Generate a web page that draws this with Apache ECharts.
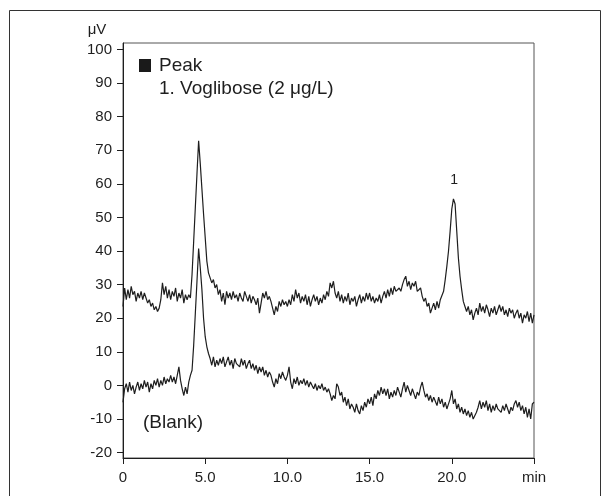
<!DOCTYPE html>
<html>
<head>
<meta charset="utf-8">
<script src="https://cdn.jsdelivr.net/npm/echarts@6/dist/echarts.min.js"></script>
<style>
html,body{margin:0;padding:0;background:#fff;}
#chart{width:609px;height:496px;}
</style>
</head>
<body>
<div id="chart"></div>
<script>
// ---- data ----
var timeStart = 0;      // min
var timeStep = 0.1;     // min between samples
var sampleTrace = [
  23.5, 29.0, 25.5, 28.5, 26.0, 29.5, 27.0, 28.0, 25.0, 27.5,
  26.0, 28.0, 25.5, 27.5, 26.0, 24.5, 25.5, 23.5, 24.5, 22.5,
  23.5, 22.0, 23.0, 25.5, 30.5, 27.0, 29.5, 26.0, 28.5, 25.5,
  28.0, 26.5, 29.0, 25.0, 27.5, 26.0, 28.5, 24.5, 27.0, 25.5,
  27.0, 26.0, 33.0, 43.0, 53.0, 63.0, 72.8, 66.0, 58.5, 51.0,
  44.0, 37.0, 33.5, 32.0, 30.5, 31.5, 29.0, 30.0, 27.0, 28.5,
  25.0, 27.5, 24.0, 28.0, 26.0, 27.5, 25.5, 28.0, 26.0, 27.0,
  25.0, 27.5, 26.0, 25.0, 28.0, 26.5, 25.0, 27.0, 24.5, 26.5,
  25.5, 24.0, 26.0, 21.5, 24.5, 27.5, 26.0, 28.0, 25.5, 26.5,
  25.0, 23.0, 21.0, 23.5, 22.0, 25.0, 23.5, 25.5, 24.0, 25.0,
  23.5, 25.5, 24.0, 27.0, 25.0, 28.5, 26.0, 27.5, 24.5, 26.5,
  25.0, 27.0, 24.0, 26.5, 23.5, 25.5, 27.0, 25.0, 26.5, 24.0,
  26.0, 24.5, 27.0, 25.5, 28.0, 26.5, 30.5, 29.0, 31.0, 27.5,
  26.0, 28.0, 25.0, 27.0, 24.5, 26.5, 25.0, 27.5, 24.0, 26.0,
  25.0, 26.5, 23.5, 25.5, 27.0, 24.5, 26.5, 25.0, 27.5, 25.5,
  27.5, 25.0, 26.5, 24.5, 26.0, 25.0, 27.0, 24.5, 26.5, 28.0,
  26.0, 28.5, 26.5, 29.0, 27.0, 29.5, 28.0, 27.5, 29.0, 28.0,
  30.0, 31.5, 32.5, 29.5, 31.0, 28.5, 30.5, 29.5, 31.0, 28.0,
  27.5, 29.0, 26.5, 25.0, 26.0, 23.5, 24.5, 21.5, 23.0, 24.5,
  22.5, 25.0, 23.0, 25.5, 26.0, 28.0, 31.5, 35.5, 40.0, 46.0,
  52.5, 55.5, 54.0, 46.0, 38.0, 32.5, 28.5, 25.0, 23.5, 22.0,
  23.5, 21.0, 22.5, 19.5, 21.5, 23.0, 21.0, 24.5, 22.0, 23.5,
  21.5, 24.0, 22.5, 20.5, 23.0, 21.5, 23.5, 21.0, 22.5, 24.0,
  22.0, 23.5, 21.0, 22.5, 20.5, 23.0, 21.5, 22.5, 20.0, 21.5,
  22.5, 20.0, 21.5, 18.5, 21.0, 20.0, 22.0, 19.0, 21.5, 18.5,
  21.0
];
var blankTrace = [
  -5.0, -1.0, 0.5, -2.0, 1.0, -1.5, 0.0, -2.5, -0.5, 1.0,
  -1.5, 0.5, -1.0, 1.5, -0.5, 1.0, -2.0, 0.5, -1.0, 1.5,
  0.0, 2.0, -0.5, 1.5, 0.0, 2.5, 0.5, 2.0, 1.0, 3.0,
  1.0, 2.5, 0.5, 3.0, 5.5, 1.5, -1.0, -3.0, -0.5, -2.5,
  1.0, 3.0, 4.5, 12.0, 21.5, 31.0, 40.7, 35.0, 28.5, 20.0,
  14.5, 11.5, 9.5, 8.0, 6.0, 8.5, 5.5, 7.5, 6.0, 8.0,
  6.5, 8.5, 5.5, 7.0, 8.5, 6.0, 7.5, 5.0, 8.0, 6.5,
  7.0, 5.5, 8.0, 6.0, 7.5, 5.0, 6.5, 7.5, 5.0, 6.5,
  4.5, 6.0, 3.5, 5.5, 4.0, 5.5, 3.0, 4.5, 2.5, 4.0,
  3.0, 1.0, -0.5, 2.0, 0.5, 3.5, 2.0, 4.0, 2.5, 1.5,
  3.0, 5.5, 1.0, -1.0, 2.0, 0.5, 2.5, 0.0, 1.5, 0.5,
  2.0, 0.0, 1.5, -0.5, 1.0, 0.0, -1.0, 0.5, -1.5, 0.0,
  -1.0, 0.5, -1.5, -0.5, -2.0, -1.0, -2.5, -4.5, -3.0, -4.0,
  0.5, -0.5, -3.0, -2.0, -5.0, -3.5, -6.0, -4.0, -7.0, -5.5,
  -6.5, -8.0, -5.5, -7.5, -8.5, -6.0, -7.5, -5.0, -6.5, -4.0,
  -5.5, -3.5, -6.0, -2.5, -4.0, -1.5, -3.0, -0.5, -2.5, -1.0,
  -3.0, -1.0, -4.0, -2.0, -3.5, -1.5, -3.0, -0.5, -2.0, -3.5,
  -1.0, 1.0, -2.0, 0.0, -1.5, -3.0, -1.0, -2.5, -4.0, -2.0,
  -3.0, -0.5, 1.0, -1.5, -3.5, -2.5, -4.5, -3.0, -5.0, -3.5,
  -4.0, -6.0, -3.5, -5.5, -4.0, -6.5, -5.0, -7.0, -5.5, -4.0,
  -1.5, -5.5, -4.0, -7.0, -5.5, -8.0, -6.5, -8.5, -7.0, -9.0,
  -7.5, -9.5, -8.0, -10.0, -10.5, -8.0, -6.5, -4.5, -7.0, -5.0,
  -6.5, -4.5, -7.5, -5.5, -8.0, -6.0, -7.5, -5.5, -7.0, -6.5,
  -8.0, -6.0, -7.5, -5.5, -7.0, -8.5, -6.5, -7.5, -5.5, -4.5,
  -6.5, -5.0, -7.5, -6.0, -8.5, -6.5, -9.5, -7.0, -10.0, -5.5,
  -5.0
];
var yTicks = [-20, -10, 0, 10, 20, 30, 40, 50, 60, 70, 80, 90, 100];
var xTicks = [0, 5, 10, 15, 20, 25];
var xTickLabels = ['0', '5.0', '10.0', '15.0', '20.0', 'min'];
var peakLabelTime = [20.15];
var peakLabelValue = [61];
var peakLabelText = ['1'];

// ---- build ----
function toPairs(arr) {
  return arr.map(function (v, i) { return [+(timeStart + i * timeStep).toFixed(2), v]; });
}
var FONT = '"Liberation Sans", Arial, Helvetica, sans-serif';
var INK = '#1e1e1e';

var chart = echarts.init(document.getElementById('chart'), null, { renderer: 'canvas' });
chart.setOption({
  backgroundColor: '#ffffff',
  animation: false,
  grid: {
    left: 123, top: 43, right: 75, bottom: 38,
    show: true, borderColor: '#555', borderWidth: 1, backgroundColor: 'transparent'
  },
  xAxis: {
    type: 'value', min: 0, max: 25, interval: 5,
    axisLine: { show: true, onZero: false, lineStyle: { color: INK, width: 1 } },
    axisTick: { show: true, length: 6, lineStyle: { color: INK } },
    axisLabel: {
      margin: 12, fontSize: 15, color: INK, fontFamily: FONT,
      formatter: function (v) { var k = xTicks.indexOf(v); return k >= 0 ? xTickLabels[k] : ''; }
    },
    splitLine: { show: false }
  },
  yAxis: {
    type: 'value', min: -21.6, max: 101.9,
    axisLine: { show: true, onZero: false, lineStyle: { color: INK, width: 1 } },
    axisTick: { show: true, length: 6, customValues: yTicks, lineStyle: { color: INK } },
    axisLabel: {
      margin: 11, fontSize: 15, color: INK, fontFamily: FONT, customValues: yTicks,
      formatter: function (v) { return String(v); }
    },
    splitLine: { show: false }
  },
  series: [
    {
      type: 'line', name: 'Sample', data: toPairs(sampleTrace),
      showSymbol: false, symbol: 'none',
      lineStyle: { color: INK, width: 1.2 }, silent: true
    },
    {
      type: 'line', name: 'Blank', data: toPairs(blankTrace),
      showSymbol: false, symbol: 'none',
      lineStyle: { color: INK, width: 1.2 }, silent: true
    },
    {
      type: 'scatter', name: 'Peak label',
      data: peakLabelTime.map(function (t, i) { return [t, peakLabelValue[i]]; }),
      symbolSize: 1, silent: true,
      itemStyle: { color: 'rgba(0,0,0,0)' },
      label: {
        show: true, position: 'inside', fontSize: 14, color: INK, fontFamily: FONT,
        textBorderWidth: 0, opacity: 1,
        formatter: function (p) { return peakLabelText[p.dataIndex]; }
      }
    }
  ],
  graphic: [
    { type: 'rect', shape: { x: 9.5, y: 10.5, width: 591, height: 520 },
      style: { fill: 'none', stroke: '#333', lineWidth: 1 }, z: -1 },
    { type: 'text', x: 97, y: 30,
      style: { text: 'μV', font: '15px ' + FONT, fill: INK, textAlign: 'center', textVerticalAlign: 'middle' } },
    { type: 'rect', shape: { x: 139, y: 59, width: 12, height: 13 }, style: { fill: '#1a1a1a' } },
    { type: 'text', x: 159, y: 66,
      style: { text: 'Peak', font: '19px ' + FONT, fill: INK, textVerticalAlign: 'middle' } },
    { type: 'text', x: 159, y: 89,
      style: { text: '1. Voglibose (2 μg/L)', font: '19px ' + FONT, fill: INK, textVerticalAlign: 'middle' } },
    { type: 'text', x: 143, y: 423,
      style: { text: '(Blank)', font: '19px ' + FONT, fill: INK, textVerticalAlign: 'middle' } }
  ]
});
</script>
</body>
</html>
